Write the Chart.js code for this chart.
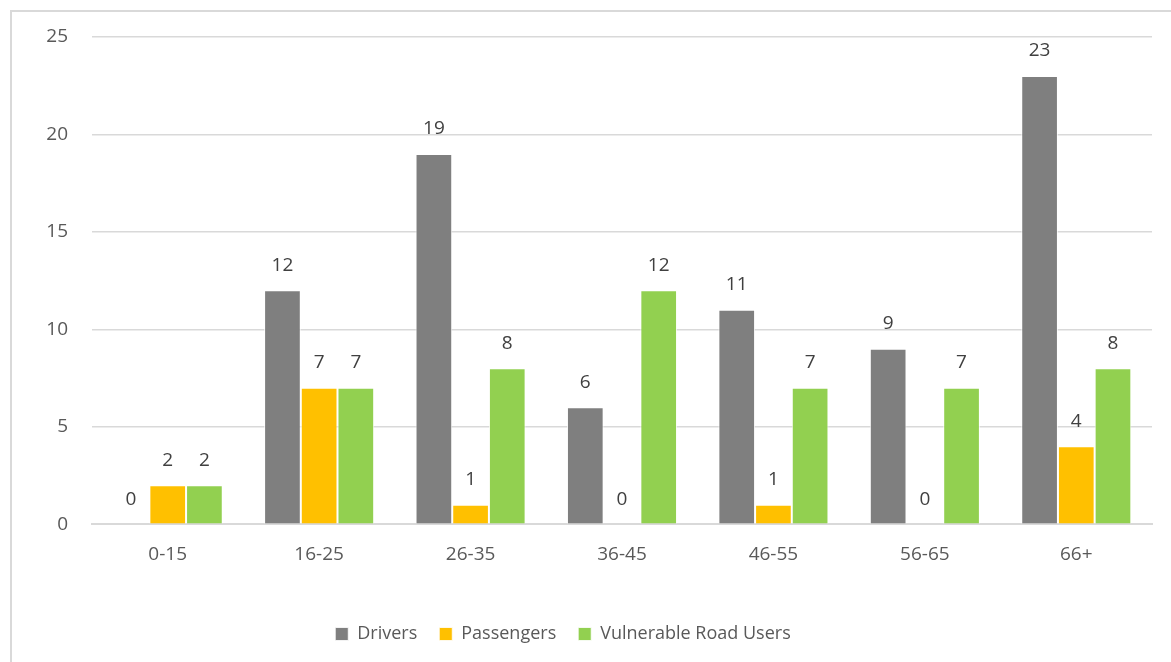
<!DOCTYPE html>
<html>
<head>
<meta charset="utf-8">
<script src="https://cdn.jsdelivr.net/npm/chart.js@4"></script>
<style>
  html, body { margin: 0; padding: 0; background: #fff; overflow: hidden; }
  #frame {
    position: absolute; left: 10px; top: 10px;
    width: 1200px; height: 700px;
    border-left: 2px solid #d9d9d9; border-top: 2px solid #d9d9d9;
  }
  #wrap { position: absolute; left: 0; top: 0; width: 1171px; height: 662px; }
</style>
</head>
<body>
<div id="frame"></div>
<div id="wrap"><canvas id="chart"></canvas></div>
<script>
const ageGroups = ['0-15', '16-25', '26-35', '36-45', '46-55', '56-65', '66+'];
const drivers = [0, 12, 19, 6, 11, 9, 23];
const passengers = [2, 7, 1, 0, 1, 0, 4];
const vulnerable = [2, 7, 8, 12, 7, 7, 8];
const yTicks = [0, 5, 10, 15, 20, 25];

const fontFamily = '"Open Sans", "Liberation Sans", sans-serif';

// draws the number above each bar
const valueLabels = {
  id: 'valueLabels',
  afterDatasetsDraw(chart) {
    const ctx = chart.ctx;
    ctx.save();
    ctx.font = '19px ' + fontFamily;
    ctx.fillStyle = '#404040';
    ctx.textAlign = 'center';
    ctx.textBaseline = 'middle';
    chart.data.datasets.forEach((ds, i) => {
      chart.getDatasetMeta(i).data.forEach((bar, j) => {
        ctx.fillText(String(ds.data[j]), bar.x, bar.y - 25);
      });
    });
    ctx.restore();
  }
};

// legend sits a little left of centre in the original
const shiftLegend = {
  id: 'shiftLegend',
  afterLayout(chart) {
    if (chart.legend) {
      chart.legend.left -= 13;
      chart.legend.right -= 13;
    }
  }
};

new Chart(document.getElementById('chart'), {
  type: 'bar',
  data: {
    labels: ageGroups,
    datasets: [
      { label: 'Drivers', data: drivers, backgroundColor: '#7f7f7f' },
      { label: 'Passengers', data: passengers, backgroundColor: '#ffc000' },
      { label: 'Vulnerable Road Users', data: vulnerable, backgroundColor: '#92d050' }
    ]
  },
  options: {
    responsive: true,
    maintainAspectRatio: false,
    animation: false,
    datasets: {
      bar: {
        categoryPercentage: 0.727,
        barPercentage: 1,
        borderColor: 'rgba(255,255,255,0.8)',
        borderWidth: 1
      }
    },
    layout: { padding: { left: 0, right: 19, top: 37, bottom: 9 } },
    scales: {
      x: {
        afterFit(axis) { axis.height += 18; },
        grid: { display: false, drawTicks: false },
        border: { color: '#d9d9d9', width: 2 },
        ticks: { color: '#595959', padding: 19, font: { family: fontFamily, size: 19 } }
      },
      y: {
        min: 0,
        max: 25,
        afterBuildTicks(axis) { axis.ticks = yTicks.map(v => ({ value: v })); },
        afterFit(axis) { axis.width = 92; },
        grid: { color: '#d9d9d9', lineWidth: 1.5, drawTicks: false },
        border: { display: false },
        ticks: { color: '#595959', padding: 24, font: { family: fontFamily, size: 19 } }
      }
    },
    plugins: {
      tooltip: { enabled: false },
      legend: {
        position: 'bottom',
        labels: {
          color: '#595959',
          boxWidth: 13,
          boxHeight: 13,
          padding: 22,
          font: { family: fontFamily, size: 18 }
        }
      }
    }
  },
  plugins: [valueLabels, shiftLegend]
});
</script>
</body>
</html>
